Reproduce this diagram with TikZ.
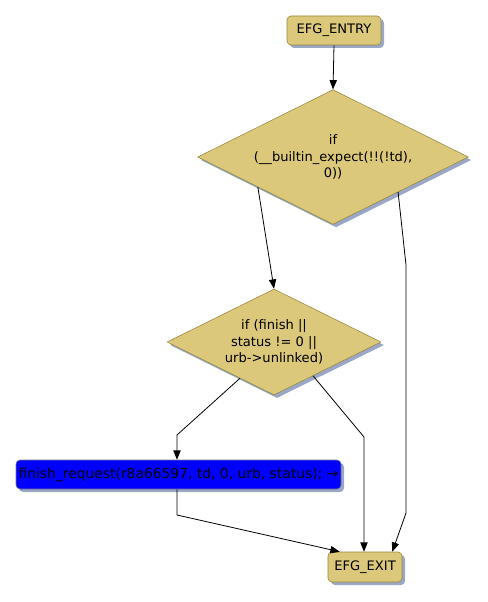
\documentclass[tikz,border=0pt]{standalone}
\usepackage{fontspec}
\setmainfont{DejaVu Sans}
\usetikzlibrary{shapes.geometric,shadows,arrows.meta,calc}
\definecolor{nodefill}{RGB}{219,200,122}
\definecolor{nodeedge}{RGB}{150,132,60}
\definecolor{shadowc}{RGB}{154,168,198}
\definecolor{bluefill}{RGB}{0,0,255}
\definecolor{blueedge}{RGB}{120,120,140}
\tikzset{
  sh/.style={drop shadow={shadow xshift=2.25pt,shadow yshift=-2.25pt,fill=shadowc,opacity=1}},
  boxnode/.style={draw=nodeedge,fill=nodefill,rounded corners=3pt,sh,inner sep=0pt,font=\fontsize{9.8pt}{12pt}\selectfont},
  decision/.style={diamond,draw=nodeedge,fill=nodefill,sh,inner sep=0pt,shape aspect=2,align=center,font=\fontsize{9.8pt}{12.5pt}\selectfont},
  flow/.style={draw=black,line width=0.6pt,-{Triangle[length=7pt,width=5.5pt]}}
}
\begin{document}
\begin{tikzpicture}[x=0.75pt,y=-0.75pt]
\useasboundingbox (0,0) rectangle (487,602);
\node[boxnode,minimum width=70.5pt,minimum height=21.75pt] (entry) at (334,30.5) {EFG\_ENTRY};
\node[decision,minimum width=203pt,minimum height=101pt] (d1) at (333,157) {if\\(\_\_builtin\_expect(!!(!td),\\0))};
\node[decision,minimum width=160.5pt,minimum height=79.5pt] (d2) at (274,342) {if (finish ||\\status != 0 ||\\urb->unlinked)};
\node[boxnode,fill=bluefill,draw=blueedge,minimum width=243.75pt,minimum height=21.75pt,font=\fontsize{10.4pt}{12pt}\selectfont] (fin) at (178.5,474.5) {finish\_request(r8a66597, td, 0, urb, status); →};
\node[boxnode,minimum width=55.5pt,minimum height=22.5pt] (exit) at (365,567) {EFG\_EXIT};
\coordinate (c1) at (406,265);
\coordinate (c2) at (406,513);
\coordinate (c3) at (177,435);
\coordinate (c4) at (364,437);
\coordinate (c5) at (177,515);
\draw[flow] (entry.south) -- (d1.north);
\draw[flow] ($(d1.west)!0.446!(d1.south)$) -- (d2.north);
\draw[flow] ($(d1.east)!0.52!(d1.south)$) -- (c1) -- (c2) -- ($(exit.north east)+(-10,0)$);
\draw[flow] ($(d2.west)!0.682!(d2.south)$) -- (c3) -- (fin.north -| c3);
\draw[flow] ($(d2.east)!0.636!(d2.south)$) -- (c4) -- (exit.north -| c4);
\draw[flow] (fin.south -| c5) -- (c5) -- ($(exit.north west)+(12,0)$);
\end{tikzpicture}
\end{document}
